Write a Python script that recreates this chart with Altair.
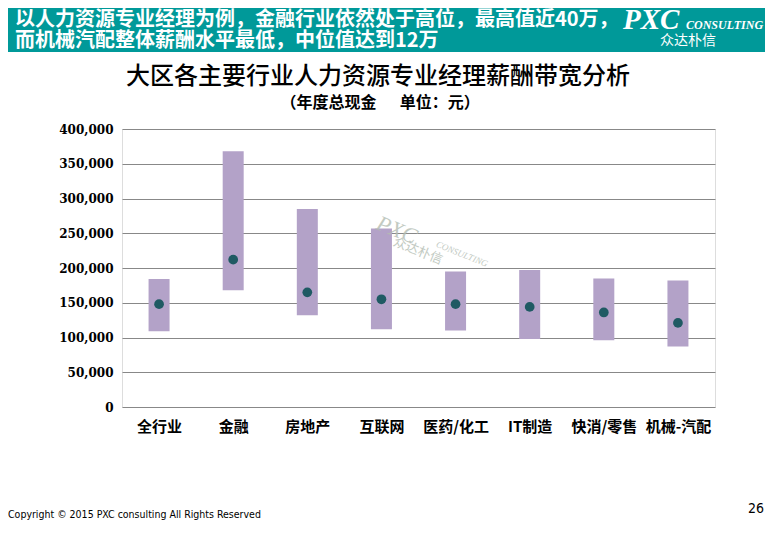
import altair as alt
import pandas as pd

categories = ["全行业", "金融", "房地产", "互联网", "医药/化工", "IT制造", "快消/零售", "机械-汽配"]
low_values = [109000, 168000, 132000, 112000, 110000, 98000, 96000, 87000]
high_values = [184000, 368000, 285000, 257000, 195000, 197000, 185000, 182000]
median_values = [148000, 212000, 165000, 155000, 148000, 144000, 136000, 121000]
y_ticks = [0, 50000, 100000, 150000, 200000, 250000, 300000, 350000, 400000]

header_line1 = "以人力资源专业经理为例，金融行业依然处于高位，最高值近40万，"
header_line2 = "而机械汽配整体薪酬水平最低，中位值达到12万"
title_text = "大区各主要行业人力资源专业经理薪酬带宽分析"
subtitle_text = "（年度总现金\u3000\u00a0\u00a0单位：元）"
copyright_text = "Copyright © 2015 PXC consulting All Rights Reserved"
page_number = "26"

df = pd.DataFrame({"cat": categories, "low": low_values, "high": high_values, "median": median_values})
one = pd.DataFrame({"t": [0]})

CJK = "Noto Sans CJK SC"
NARROW = "DejaVu Sans Condensed, Liberation Sans, sans-serif"

x_axis = alt.Axis(labelAngle=0, domain=False, ticks=False, labelFontSize=15,
                  labelFontWeight="bold", labelFont=CJK, labelColor="#000000",
                  labelPadding=12)
y_axis = alt.Axis(values=y_ticks, format=",.0f", domain=False, ticks=False,
                  grid=True, gridColor="#888888", gridWidth=1, labelFont="DejaVu Serif",
                  labelFontWeight="bold", labelFontSize=12, labelColor="#000000",
                  labelPadding=9, labelOverlap=False)
x_scale = alt.Scale(type="point", padding=0.5)
y_scale = alt.Scale(domain=[0, 400000], nice=False)

bars = alt.Chart(df).mark_bar(size=21, color="#B3A2C8").encode(
    x=alt.X("cat:N", sort=categories, title=None, scale=x_scale, axis=x_axis),
    y=alt.Y("low:Q", scale=y_scale, title=None, axis=y_axis),
    y2="high:Q",
)
dots = alt.Chart(df).mark_circle(size=95, color="#1F5A63", opacity=1).encode(
    x=alt.X("cat:N", sort=categories, title=None, scale=x_scale, axis=x_axis),
    y=alt.Y("median:Q", scale=y_scale, title=None, axis=y_axis),
)
base = alt.layer(bars, dots)


def txt(text, x, y, size, color="#000000", weight="normal", font=CJK, align="left",
        angle=0, style="normal", opacity=1.0, baseline="middle"):
    return alt.Chart(one).mark_text(text=text, fontSize=size, color=color, fontWeight=weight,
                                    font=font, align=align, baseline=baseline, angle=angle,
                                    fontStyle=style, opacity=opacity).encode(
        x=alt.value(x), y=alt.value(y))


banner = alt.Chart(one).mark_rect(color="#009999").encode(
    x=alt.value(-130), x2=alt.value(660), y=alt.value(-140), y2=alt.value(-77))

WM = "#b3bdb3"

decor = [
    banner,
    txt(header_line1, -107, -109, 20, "#ffffff", "bold"),
    txt(header_line2, -107, -88, 20, "#ffffff", "bold"),
    txt("PXC", 501, -100, 29, "#ffffff", "bold", "Liberation Serif", style="italic",
        baseline="alphabetic"),
    txt("CONSULTING", 564, -100, 12, "#ffffff", "bold", "Liberation Serif", style="italic",
        baseline="alphabetic"),
    txt("众达朴信", 566, -88, 14, "#ffffff", "normal", CJK, align="center"),
    txt(title_text, 256, -52, 24, "#000000", 500, CJK, align="center"),
    txt(subtitle_text, 258, -26, 16, "#000000", "bold", CJK, align="center"),
    txt("PXC", 275, 101, 22, WM, "normal", "Liberation Serif", align="center",
        angle=22, style="italic", opacity=0.8),
    txt("CONSULTING", 340, 125, 9, WM, "normal", "Liberation Serif", align="center",
        angle=22, style="italic", opacity=0.8),
    txt("众达朴信", 296, 122, 13, WM, "normal", CJK, align="center",
        angle=22, opacity=0.8),
    txt(copyright_text, -114, 386, 10.5, "#000000", "normal", NARROW),
    txt(page_number, 642, 380, 14, "#000000", "normal", NARROW, align="right"),
]

chart = alt.layer(base, *decor).properties(
    width=593, height=278,
    autosize=alt.AutoSizeParams(type="none"),
    padding={"left": 114, "top": 121, "right": 50, "bottom": 115},
).configure_view(stroke=None).configure(background="#ffffff")

chart.save("out.html", embed_options={"renderer": "svg", "actions": False})
